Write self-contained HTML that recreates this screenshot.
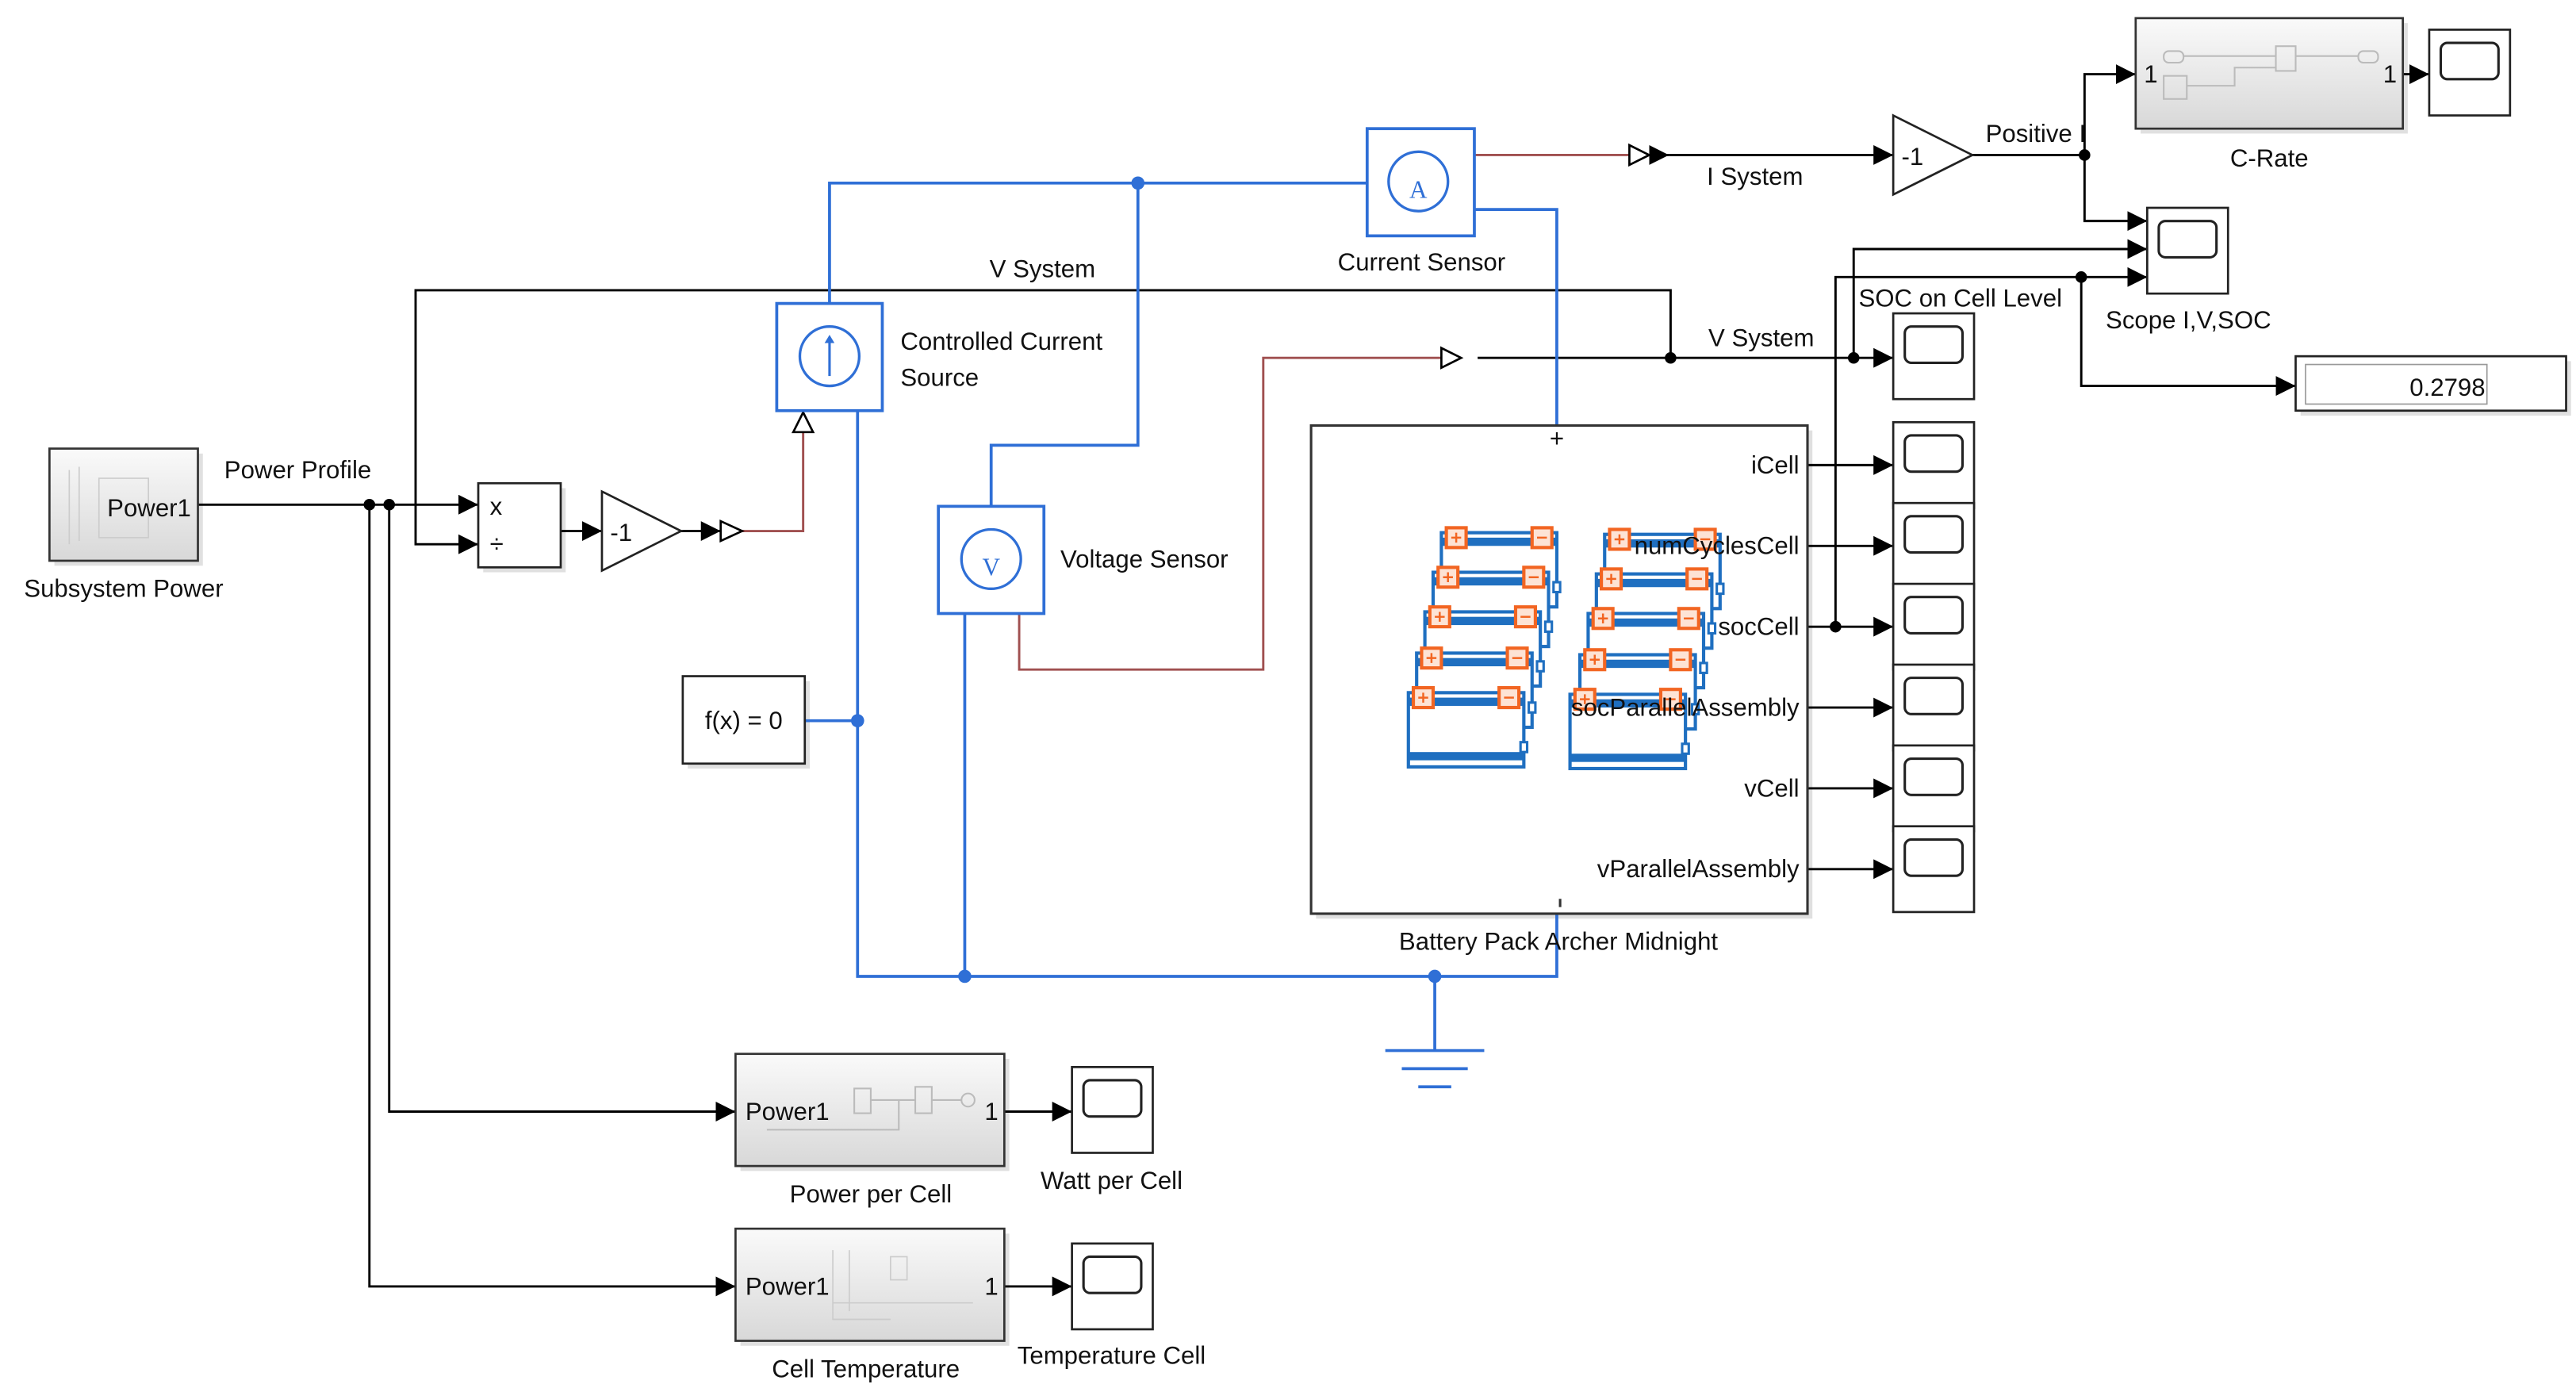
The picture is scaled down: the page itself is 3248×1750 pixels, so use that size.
<!DOCTYPE html>
<html><head><meta charset="utf-8"><style>
html,body{margin:0;padding:0;background:#fff;}
svg{display:block;}
text{font-family:"Liberation Sans",sans-serif;font-size:15px;fill:#111;}
</style></head><body>
<svg width="3248" height="1750" viewBox="0 0 1562 841.6" preserveAspectRatio="none" xmlns="http://www.w3.org/2000/svg">
<defs>
<marker id="a" markerUnits="userSpaceOnUse" markerWidth="13" markerHeight="12" refX="12" refY="6" orient="auto"><path d="M0,0 L12,6 L0,12 z" fill="#000"/></marker>
<linearGradient id="g" x1="0" y1="0" x2="0" y2="1"><stop offset="0" stop-color="#fafafa"/><stop offset="1" stop-color="#d8d8d8"/></linearGradient>
<g id="bat">
<rect x="0" y="0" width="70" height="45" fill="#fff" stroke="#1f6fc0" stroke-width="2"/>
<rect x="0" y="3" width="70" height="5" fill="#1f6fc0"/>
<rect x="3" y="-3" width="12" height="12" fill="#fde3d5" stroke="#f26522" stroke-width="2"/>
<path d="M9,0 V6 M6,3 H12" stroke="#f26522" stroke-width="1.2"/>
<rect x="55" y="-3" width="12" height="12" fill="#fde3d5" stroke="#f26522" stroke-width="2"/>
<path d="M58,3 H64" stroke="#f26522" stroke-width="1.2"/>
<rect x="68" y="30" width="4" height="6" fill="#fff" stroke="#1f6fc0" stroke-width="1.5"/>
</g>
<g id="scope"><rect x="0" y="0" width="49" height="52" fill="#fff" stroke="#222" stroke-width="1.3"/><rect x="7" y="8" width="35" height="22" rx="4" fill="#fff" stroke="#222" stroke-width="1.5"/></g>
</defs>

<g fill="#ccc" opacity="0.6">
<rect x="33" y="275" width="90" height="68"/><rect x="293" y="296" width="50" height="51"/>
<rect x="417" y="413" width="74" height="53"/><rect x="798" y="261" width="301" height="296"/>
<rect x="1298" y="14" width="162" height="67"/><rect x="449" y="642" width="163" height="68"/><rect x="449" y="748" width="163" height="68"/>
<rect x="1395" y="219" width="164" height="33"/>
</g>

<g stroke="#000" stroke-width="1.4" fill="none">
<line x1="120" y1="306" x2="290" y2="306" marker-end="url(#a)"/>
<polyline points="252,306 252,176 1013,176 1013,217"/>
<polyline points="252,306 252,330 290,330" marker-end="url(#a)"/>
<line x1="340" y1="322" x2="365" y2="322" marker-end="url(#a)"/>
<line x1="413" y1="322" x2="437" y2="322" marker-end="url(#a)"/>
<polyline points="236,306 236,674 446,674" marker-end="url(#a)"/>
<polyline points="224,306 224,780 446,780" marker-end="url(#a)"/>
<line x1="609" y1="674" x2="650" y2="674" marker-end="url(#a)"/>
<line x1="609" y1="780" x2="650" y2="780" marker-end="url(#a)"/>
<line x1="896" y1="217" x2="1148" y2="217" marker-end="url(#a)"/>
<line x1="1000" y1="94" x2="1012" y2="94" marker-end="url(#a)"/>
<line x1="1012" y1="94" x2="1148" y2="94" marker-end="url(#a)"/>
<line x1="1196" y1="94" x2="1264" y2="94"/>
<polyline points="1264,94 1264,45 1295,45" marker-end="url(#a)"/>
<polyline points="1264,94 1264,134 1302,134" marker-end="url(#a)"/>
<line x1="1457" y1="45" x2="1473" y2="45" marker-end="url(#a)"/>
<polyline points="1124,217 1124,151 1302,151" marker-end="url(#a)"/>
<polyline points="1113,380 1113,168 1302,168" marker-end="url(#a)"/>
<polyline points="1262,168 1262,234 1392,234" marker-end="url(#a)"/>
<line x1="1096" y1="282" x2="1148" y2="282" marker-end="url(#a)"/>
<line x1="1096" y1="331" x2="1148" y2="331" marker-end="url(#a)"/>
<line x1="1096" y1="380" x2="1148" y2="380" marker-end="url(#a)"/>
<line x1="1096" y1="429" x2="1148" y2="429" marker-end="url(#a)"/>
<line x1="1096" y1="478" x2="1148" y2="478" marker-end="url(#a)"/>
<line x1="1096" y1="527" x2="1148" y2="527" marker-end="url(#a)"/>
</g>
<g fill="#000">
<circle cx="224" cy="306" r="3.5"/><circle cx="236" cy="306" r="3.5"/>
<circle cx="1013" cy="217" r="3.5"/><circle cx="1124" cy="217" r="3.5"/><circle cx="1264" cy="94" r="3.5"/>
<circle cx="1262" cy="168" r="3.5"/><circle cx="1113" cy="380" r="3.5"/>
</g>

<g stroke="#a05050" stroke-width="1.4" fill="none">
<polyline points="450,322 487,322 487,262"/>
<polyline points="618,367 618,406 766,406 766,217 874,217"/>
<line x1="894" y1="94" x2="988" y2="94"/>
</g>
<g fill="#fff" stroke="#000" stroke-width="1.3">
<polygon points="437,316 450,322 437,328"/>
<polygon points="481,262 487,250 493,262"/>
<polygon points="874,211 886,217 874,223"/>
<polygon points="988,88 1000,94 988,100"/>
</g>

<g stroke="#2f6fd6" stroke-width="1.8" fill="none">
<polyline points="503,184 503,111 830,111"/>
<polyline points="690,111 690,270 601,270 601,307"/>
<polyline points="520,249 520,592 944,592 944,545"/>
<line x1="488" y1="437" x2="520" y2="437"/>
<line x1="585" y1="365" x2="585" y2="592"/>
<polyline points="894,127 944,127 944,262"/>
<polyline points="870,592 870,637"/>
<line x1="840" y1="637" x2="900" y2="637"/><line x1="850" y1="648" x2="890" y2="648"/><line x1="860" y1="659" x2="880" y2="659"/>
</g>
<g fill="#2f6fd6"><circle cx="690" cy="111" r="4"/><circle cx="520" cy="437" r="4"/><circle cx="585" cy="592" r="4"/><circle cx="870" cy="592" r="4"/></g>

<rect x="30" y="272" width="90" height="68" fill="url(#g)" stroke="#333" stroke-width="1.3"/>
<g stroke="#ccc" fill="none" stroke-width="0.8"><line x1="42" y1="285" x2="42" y2="330"/><line x1="48" y1="283" x2="48" y2="328"/><rect x="60" y="290" width="30" height="36"/></g>
<text x="65" y="313">Power1</text>
<text x="75" y="362" text-anchor="middle">Subsystem Power</text>
<text x="136" y="290">Power Profile</text>
<text x="600" y="168">V System</text>

<rect x="290" y="293" width="50" height="51" fill="#fff" stroke="#222" stroke-width="1.3"/>
<text x="297" y="312" font-size="14">x</text><text x="297" y="335" font-size="14">÷</text>
<polygon points="365,298 413,322 365,346" fill="#fff" stroke="#222" stroke-width="1.3"/>
<text x="370" y="328">-1</text>

<rect x="471" y="184" width="64" height="65" fill="#fff" stroke="#2f6fd6" stroke-width="1.8"/>
<circle cx="503" cy="216" r="18" fill="none" stroke="#2f6fd6" stroke-width="1.6"/>
<line x1="503" y1="228" x2="503" y2="205" stroke="#2f6fd6" stroke-width="1.5"/><path d="M500,208 L503,203 L506,208z" fill="#2f6fd6"/>
<text x="546" y="212">Controlled Current</text><text x="546" y="234">Source</text>

<rect x="569" y="307" width="64" height="65" fill="#fff" stroke="#2f6fd6" stroke-width="1.8"/>
<circle cx="601" cy="339" r="18" fill="none" stroke="#2f6fd6" stroke-width="1.6"/>
<text x="601" y="349" text-anchor="middle" font-size="28" style="fill:#2f6fd6;font-family:'Liberation Serif',serif">V</text>
<text x="643" y="344">Voltage Sensor</text>

<rect x="414" y="410" width="74" height="53" fill="#fff" stroke="#222" stroke-width="1.3"/>
<text x="451" y="442" text-anchor="middle">f(x) = 0</text>

<rect x="829" y="78" width="65" height="65" fill="#fff" stroke="#2f6fd6" stroke-width="1.8"/>
<circle cx="860" cy="110" r="18" fill="none" stroke="#2f6fd6" stroke-width="1.6"/>
<text x="860" y="120" text-anchor="middle" font-size="28" style="fill:#2f6fd6;font-family:'Liberation Serif',serif">A</text>
<text x="862" y="164" text-anchor="middle">Current Sensor</text>
<text x="1035" y="112" font-size="14">I System</text>

<polygon points="1148,70 1196,94 1148,118" fill="#fff" stroke="#222" stroke-width="1.3"/>
<text x="1153" y="100">-1</text>
<text x="1204" y="86" font-size="14">Positive I</text>

<rect x="1295" y="11" width="162" height="67" fill="url(#g)" stroke="#333" stroke-width="1.3"/>
<g stroke="#bbb" fill="none" stroke-width="1"><rect x="1312" y="31" width="12" height="7" rx="3"/><line x1="1324" y1="34" x2="1380" y2="34"/><rect x="1380" y="28" width="12" height="15"/><line x1="1392" y1="34" x2="1430" y2="34"/><rect x="1430" y="31" width="12" height="7" rx="3"/><polyline points="1326,52 1355,52 1355,41 1380,41"/><rect x="1312" y="46" width="14" height="14"/></g>
<text x="1300" y="50" font-size="14">1</text><text x="1445" y="50" font-size="14">1</text>
<text x="1376" y="101" text-anchor="middle">C-Rate</text>
<use href="#scope" x="1473" y="18"/>

<use href="#scope" x="1302" y="126"/>
<text x="1327" y="199" text-anchor="middle">Scope I,V,SOC</text>
<text x="1127" y="186" font-size="14">SOC on Cell Level</text>
<use href="#scope" x="1148" y="190"/>
<text x="1068" y="210" text-anchor="middle" font-size="14">V System</text>

<rect x="1392" y="216" width="164" height="33" fill="#fff" stroke="#222" stroke-width="1.3"/>
<rect x="1398" y="221" width="110" height="24" fill="#fff" stroke="#999" stroke-width="0.8"/>
<text x="1507" y="240" text-anchor="end">0.2798</text>

<rect x="795" y="258" width="301" height="296" fill="#fff" stroke="#333" stroke-width="1.5"/>
<text x="944" y="271" text-anchor="middle" font-size="13">+</text>
<line x1="946" y1="545" x2="946" y2="550" stroke="#333" stroke-width="1.5"/>
<use href="#bat" x="874" y="323"/><use href="#bat" x="869" y="347"/><use href="#bat" x="864" y="371"/><use href="#bat" x="859" y="396"/><use href="#bat" x="854" y="420"/>
<use href="#bat" x="973" y="324"/><use href="#bat" x="968" y="348"/><use href="#bat" x="963" y="372"/><use href="#bat" x="958" y="397"/><use href="#bat" x="952" y="421"/>
<rect x="854" y="456" width="70" height="5" fill="#1f6fc0"/><rect x="952" y="457" width="70" height="5" fill="#1f6fc0"/>
<g text-anchor="end" font-size="14">
<text x="1091" y="287">iCell</text><text x="1091" y="336">numCyclesCell</text><text x="1091" y="385">socCell</text>
<text x="1091" y="434">socParallelAssembly</text><text x="1091" y="483">vCell</text><text x="1091" y="532">vParallelAssembly</text>
</g>
<text x="945" y="576" text-anchor="middle">Battery Pack Archer Midnight</text>
<use href="#scope" x="1148" y="256"/><use href="#scope" x="1148" y="305"/><use href="#scope" x="1148" y="354"/>
<use href="#scope" x="1148" y="403"/><use href="#scope" x="1148" y="452"/><use href="#scope" x="1148" y="501"/>

<rect x="446" y="639" width="163" height="68" fill="url(#g)" stroke="#333" stroke-width="1.3"/>
<g stroke="#bbb" fill="none"><rect x="518" y="660" width="10" height="15"/><line x1="528" y1="667" x2="555" y2="667"/><rect x="555" y="659" width="10" height="16"/><circle cx="587" cy="667" r="4"/><line x1="565" y1="667" x2="583" y2="667"/><polyline points="465,685 545,685 545,667"/></g>
<text x="452" y="679" font-size="14">Power1</text><text x="597" y="679" font-size="14">1</text>
<text x="528" y="729" text-anchor="middle">Power per Cell</text>
<use href="#scope" x="650" y="647"/>
<text x="674" y="721" text-anchor="middle">Watt per Cell</text>

<rect x="446" y="745" width="163" height="68" fill="url(#g)" stroke="#333" stroke-width="1.3"/>
<g stroke="#ccc" fill="none" stroke-width="0.8"><polyline points="505,758 505,800 540,800"/><line x1="515" y1="758" x2="515" y2="795"/><rect x="540" y="762" width="10" height="14"/><line x1="505" y1="790" x2="590" y2="790"/></g>
<text x="452" y="785" font-size="14">Power1</text><text x="597" y="785" font-size="14">1</text>
<text x="525" y="835" text-anchor="middle">Cell Temperature</text>
<use href="#scope" x="650" y="754"/>
<text x="674" y="827" text-anchor="middle">Temperature Cell</text>
</svg>
</body></html>
